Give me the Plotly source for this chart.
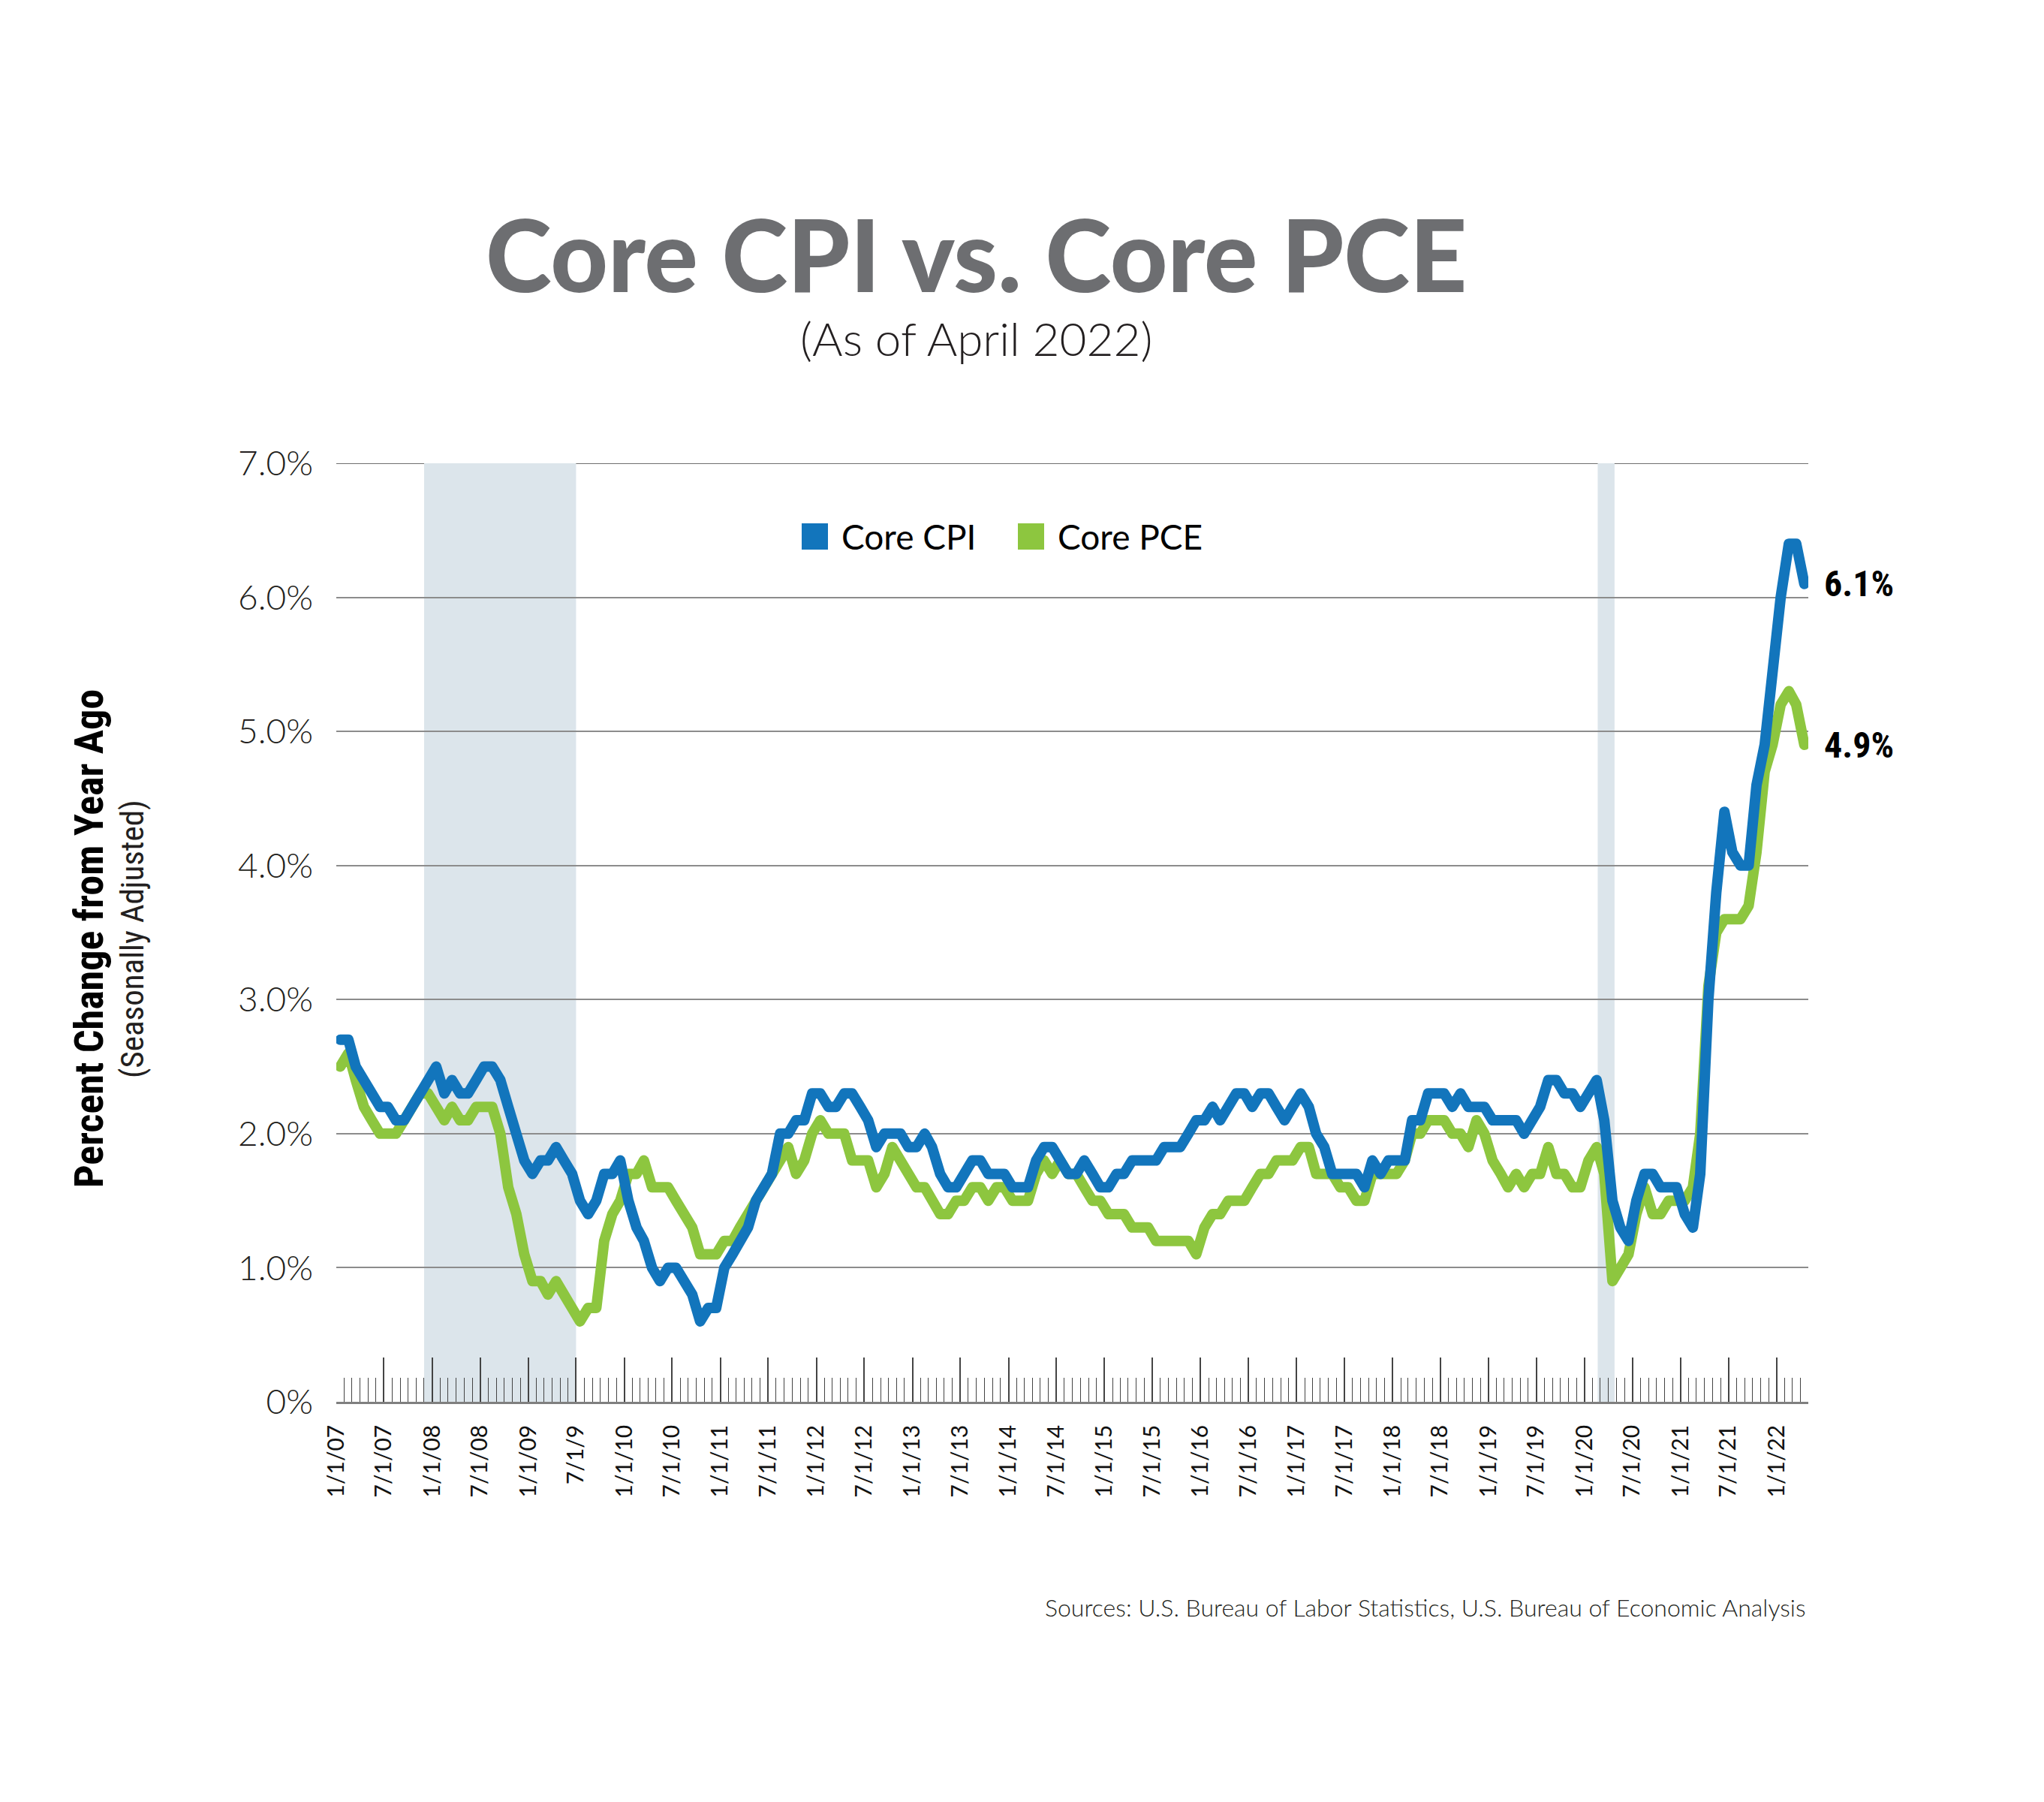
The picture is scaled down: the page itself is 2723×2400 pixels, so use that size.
import pandas as pd
import plotly.graph_objects as go

# ---------------- data (year-over-year % change, monthly Jan 2007 - Apr 2022) ----------------
start_month = "2007-01-01"
n_months = 184

core_cpi = [
    2.7, 2.7, 2.5, 2.4, 2.3, 2.2, 2.2, 2.1, 2.1, 2.2, 2.3, 2.4,   # 2007
    2.5, 2.3, 2.4, 2.3, 2.3, 2.4, 2.5, 2.5, 2.4, 2.2, 2.0, 1.8,   # 2008
    1.7, 1.8, 1.8, 1.9, 1.8, 1.7, 1.5, 1.4, 1.5, 1.7, 1.7, 1.8,   # 2009
    1.5, 1.3, 1.2, 1.0, 0.9, 1.0, 1.0, 0.9, 0.8, 0.6, 0.7, 0.7,   # 2010
    1.0, 1.1, 1.2, 1.3, 1.5, 1.6, 1.7, 2.0, 2.0, 2.1, 2.1, 2.3,   # 2011
    2.3, 2.2, 2.2, 2.3, 2.3, 2.2, 2.1, 1.9, 2.0, 2.0, 2.0, 1.9,   # 2012
    1.9, 2.0, 1.9, 1.7, 1.6, 1.6, 1.7, 1.8, 1.8, 1.7, 1.7, 1.7,   # 2013
    1.6, 1.6, 1.6, 1.8, 1.9, 1.9, 1.8, 1.7, 1.7, 1.8, 1.7, 1.6,   # 2014
    1.6, 1.7, 1.7, 1.8, 1.8, 1.8, 1.8, 1.9, 1.9, 1.9, 2.0, 2.1,   # 2015
    2.1, 2.2, 2.1, 2.2, 2.3, 2.3, 2.2, 2.3, 2.3, 2.2, 2.1, 2.2,   # 2016
    2.3, 2.2, 2.0, 1.9, 1.7, 1.7, 1.7, 1.7, 1.6, 1.8, 1.7, 1.8,   # 2017
    1.8, 1.8, 2.1, 2.1, 2.3, 2.3, 2.3, 2.2, 2.3, 2.2, 2.2, 2.2,   # 2018
    2.1, 2.1, 2.1, 2.1, 2.0, 2.1, 2.2, 2.4, 2.4, 2.3, 2.3, 2.2,   # 2019
    2.3, 2.4, 2.1, 1.5, 1.3, 1.2, 1.5, 1.7, 1.7, 1.6, 1.6, 1.6,   # 2020
    1.4, 1.3, 1.7, 3.0, 3.8, 4.4, 4.1, 4.0, 4.0, 4.6, 4.9, 5.5,   # 2021
    6.0, 6.4, 6.4, 6.1,                                           # 2022
]

core_pce = [
    2.5, 2.6, 2.4, 2.2, 2.1, 2.0, 2.0, 2.0, 2.1, 2.2, 2.3, 2.3,   # 2007
    2.2, 2.1, 2.2, 2.1, 2.1, 2.2, 2.2, 2.2, 2.0, 1.6, 1.4, 1.1,   # 2008
    0.9, 0.9, 0.8, 0.9, 0.8, 0.7, 0.6, 0.7, 0.7, 1.2, 1.4, 1.5,   # 2009
    1.7, 1.7, 1.8, 1.6, 1.6, 1.6, 1.5, 1.4, 1.3, 1.1, 1.1, 1.1,   # 2010
    1.2, 1.2, 1.3, 1.4, 1.5, 1.6, 1.7, 1.8, 1.9, 1.7, 1.8, 2.0,   # 2011
    2.1, 2.0, 2.0, 2.0, 1.8, 1.8, 1.8, 1.6, 1.7, 1.9, 1.8, 1.7,   # 2012
    1.6, 1.6, 1.5, 1.4, 1.4, 1.5, 1.5, 1.6, 1.6, 1.5, 1.6, 1.6,   # 2013
    1.5, 1.5, 1.5, 1.7, 1.8, 1.7, 1.8, 1.7, 1.7, 1.6, 1.5, 1.5,   # 2014
    1.4, 1.4, 1.4, 1.3, 1.3, 1.3, 1.2, 1.2, 1.2, 1.2, 1.2, 1.1,   # 2015
    1.3, 1.4, 1.4, 1.5, 1.5, 1.5, 1.6, 1.7, 1.7, 1.8, 1.8, 1.8,   # 2016
    1.9, 1.9, 1.7, 1.7, 1.7, 1.6, 1.6, 1.5, 1.5, 1.7, 1.7, 1.7,   # 2017
    1.7, 1.8, 2.0, 2.0, 2.1, 2.1, 2.1, 2.0, 2.0, 1.9, 2.1, 2.0,   # 2018
    1.8, 1.7, 1.6, 1.7, 1.6, 1.7, 1.7, 1.9, 1.7, 1.7, 1.6, 1.6,   # 2019
    1.8, 1.9, 1.7, 0.9, 1.0, 1.1, 1.4, 1.6, 1.4, 1.4, 1.5, 1.5,   # 2020
    1.5, 1.6, 2.0, 3.1, 3.5, 3.6, 3.6, 3.6, 3.7, 4.1, 4.7, 4.9,   # 2021
    5.2, 5.3, 5.2, 4.9,                                           # 2022
]

series_names = ["Core CPI", "Core PCE"]
end_labels = ["6.1%", "4.9%"]

y_tick_values = [0, 1, 2, 3, 4, 5, 6, 7]
y_tick_labels = ["0%", "1.0%", "2.0%", "3.0%", "4.0%", "5.0%", "6.0%", "7.0%"]

x_tick_dates = [f"{y}-{m:02d}-01" for y in range(2007, 2022) for m in (1, 7)] + ["2022-01-01"]
x_tick_labels = [
    "1/1/07", "7/1/07", "1/1/08", "7/1/08", "1/1/09", "7/1/9",
    "1/1/10", "7/1/10", "1/1/11", "7/1/11", "1/1/12", "7/1/12",
    "1/1/13", "7/1/13", "1/1/14", "7/1/14", "1/1/15", "7/1/15",
    "1/1/16", "7/1/16", "1/1/17", "7/1/17", "1/1/18", "7/1/18",
    "1/1/19", "7/1/19", "1/1/20", "7/1/20", "1/1/21", "7/1/21",
    "1/1/22",
]

recessions = [("2007-12-01", "2009-07-01"), ("2020-02-20", "2020-04-24")]

title_text = "Core CPI vs. Core PCE"
subtitle_text = "(As of April 2022)"
y_title = "Percent Change from Year Ago"
y_subtitle = "(Seasonally Adjusted)"
source_text = "Sources: U.S. Bureau of Labor Statistics, U.S. Bureau of Economic Analysis"

# ---------------- styling ----------------
BLUE = "#1275BC"
GREEN = "#8DC63F"
SHADE = "#DCE5EB"
TITLE_GRAY = "#6D6E71"
INK = "#231F20"

W, H = 2723, 2400
ML, MR, MT, MB = 448, 314, 617, 533
PW, PH = W - ML - MR, H - MT - MB
PLOT_BOTTOM = H - MB


def xp(px):
    return (px - ML) / PW


def yp(py):
    return (PLOT_BOTTOM - py) / PH


months = pd.date_range(start_month, periods=n_months, freq="MS") + pd.Timedelta(days=15)
minor_ticks = pd.date_range("2007-01-01", "2022-05-01", freq="MS")

fig = go.Figure()
for name, vals, color in [(series_names[1], core_pce, GREEN), (series_names[0], core_cpi, BLUE)]:
    fig.add_trace(go.Scatter(
        x=months, y=vals, name=name, mode="lines",
        line=dict(color=color, width=14),
        showlegend=False, hoverinfo="skip",
    ))

shapes = []
for x0, x1 in recessions:
    shapes.append(dict(type="rect", xref="x", yref="y", x0=x0, x1=x1, y0=0, y1=7,
                       fillcolor=SHADE, line=dict(width=0), layer="below"))
# darker top rule at 7%
shapes.append(dict(type="line", xref="paper", yref="y", x0=0, x1=1, y0=7, y1=7,
                   line=dict(color="#3F3F3F", width=1.6), layer="below"))
# legend swatches
for (sx0, sx1), color in [((1068, 1103), BLUE), ((1356, 1391), GREEN)]:
    shapes.append(dict(type="rect", xref="paper", yref="paper",
                       x0=xp(sx0), x1=xp(sx1), y0=yp(732), y1=yp(697),
                       fillcolor=color, line=dict(width=0)))

LIGHT = "Lato"
NARROW = "Liberation Sans Narrow, Roboto Condensed, Arial Narrow, Liberation Sans, sans-serif"

annotations = [
    dict(text=title_text, x=xp(1300), y=yp(338), xref="paper", yref="paper",
         xanchor="center", yanchor="middle", showarrow=False,
         font=dict(family="Lato", size=133, color=TITLE_GRAY, weight=900)),
    dict(text=subtitle_text, x=xp(1300), y=yp(450), xref="paper", yref="paper",
         xanchor="center", yanchor="middle", showarrow=False,
         font=dict(family=LIGHT, size=62, color=INK, weight=300)),
    dict(text=series_names[0], x=xp(1119), y=yp(714), xref="paper", yref="paper",
         xanchor="left", yanchor="middle", showarrow=False,
         font=dict(family="Lato", size=46, color="#000000")),
    dict(text=series_names[1], x=xp(1407), y=yp(714), xref="paper", yref="paper",
         xanchor="left", yanchor="middle", showarrow=False,
         font=dict(family="Lato", size=46, color="#000000")),
    dict(text=y_title, x=xp(118), y=yp(1250), xref="paper", yref="paper",
         xanchor="center", yanchor="middle", showarrow=False, textangle=-90,
         font=dict(family=NARROW, size=54, color="#000000", weight=700)),
    dict(text=y_subtitle, x=xp(176), y=yp(1251), xref="paper", yref="paper",
         xanchor="center", yanchor="middle", showarrow=False, textangle=-90,
         font=dict(family=NARROW, size=43, color=INK)),
    dict(text=end_labels[0], x=xp(2428), y=core_cpi[-1], xref="paper", yref="y",
         xanchor="left", yanchor="middle", showarrow=False,
         font=dict(family=NARROW, size=48, color="#000000", weight=700)),
    dict(text=end_labels[1], x=xp(2428), y=core_pce[-1], xref="paper", yref="y",
         xanchor="left", yanchor="middle", showarrow=False,
         font=dict(family=NARROW, size=48, color="#000000", weight=700)),
    dict(text=source_text, x=xp(2408), y=yp(2140), xref="paper", yref="paper",
         xanchor="right", yanchor="middle", showarrow=False,
         font=dict(family=LIGHT, size=32, color=INK, weight=300)),
]

fig.update_layout(
    width=W, height=H, autosize=False,
    margin=dict(l=ML, r=MR, t=MT, b=MB, pad=0),
    paper_bgcolor="white", plot_bgcolor="white",
    showlegend=False,
    shapes=shapes, annotations=annotations,
    xaxis=dict(
        type="date", range=["2007-01-01", "2022-05-01"],
        tickmode="array", tickvals=x_tick_dates, ticktext=x_tick_labels,
        tickangle=-90, ticks="inside", ticklen=59, tickwidth=1.5, tickcolor="#444444",
        ticklabelstandoff=16,
        tickfont=dict(family=LIGHT, size=30, color="#111111", weight=400),
        showgrid=False, zeroline=False,
        showline=True, linecolor="#7F7F7F", linewidth=2.5,
        minor=dict(tickmode="array", tickvals=list(minor_ticks), ticks="inside",
                   ticklen=32, tickwidth=1.3, tickcolor="#444444", showgrid=False),
        fixedrange=True,
    ),
    yaxis=dict(
        range=[0, 7], tickmode="array", tickvals=y_tick_values, ticktext=y_tick_labels,
        ticks="", ticklabelstandoff=30,
        tickfont=dict(family=LIGHT, size=46, color=INK, weight=300),
        showgrid=True, gridcolor="#8C8C8C", gridwidth=1.6,
        zeroline=False, showline=False, fixedrange=True,
    ),
)

post = """
document.body.style.margin='0';
var gd=document.getElementById('{plot_id}');
function roundLines(){gd.querySelectorAll('.scatterlayer path.js-line').forEach(function(p){p.style.strokeLinejoin='round';p.style.strokeLinecap='round';});}
roundLines();
"""

fig.write_html("out.html", config={"displayModeBar": False}, post_script=post)
